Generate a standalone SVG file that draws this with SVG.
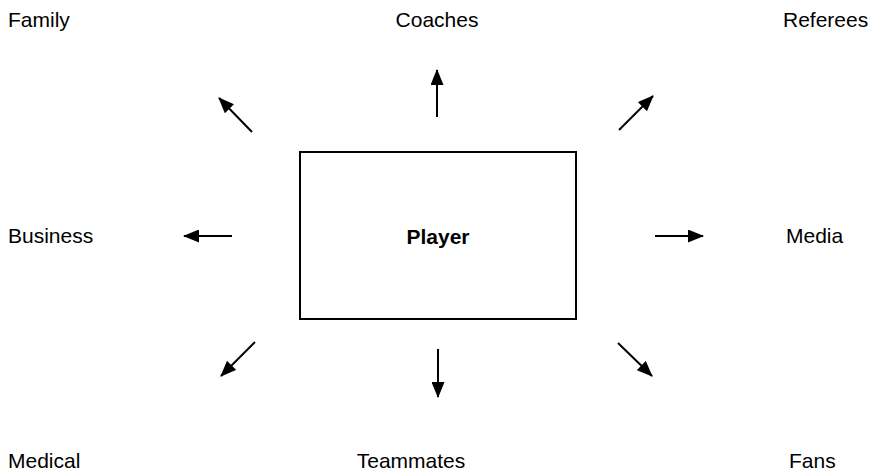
<svg xmlns="http://www.w3.org/2000/svg" width="873" height="476" viewBox="0 0 873 476">
<defs>
<style>
.lbl{font-family:"Liberation Sans",Arial,sans-serif;font-size:21px;fill:#000}
.ttl{font-family:"Liberation Sans",Arial,sans-serif;font-size:21px;font-weight:bold;fill:#000}
.box{fill:#fff;stroke:#000;stroke-width:2}
.arr{stroke:#000;stroke-width:2;fill:none;marker-end:url(#ah)}
</style>
<marker id="ah" viewBox="0 0 16 13" refX="15" refY="6.5" markerWidth="16" markerHeight="13" markerUnits="userSpaceOnUse" orient="auto">
<path d="M0,0 L16,6.5 L0,13 z" fill="#000"/>
</marker>
</defs>
<rect width="873" height="476" fill="#fff"/>
<g id="player">
<rect class="box" x="300" y="152" width="276" height="167"/>
<text class="ttl" x="438" y="244" text-anchor="middle">Player</text>
</g>
<g id="family"><text class="lbl" x="8" y="27">Family</text></g>
<g id="coaches"><text class="lbl" x="437" y="27" text-anchor="middle">Coaches</text></g>
<g id="referees"><text class="lbl" x="783" y="27">Referees</text></g>
<g id="business"><text class="lbl" x="8" y="243">Business</text></g>
<g id="media"><text class="lbl" x="786" y="243">Media</text></g>
<g id="medical"><text class="lbl" x="8" y="468">Medical</text></g>
<g id="teammates"><text class="lbl" x="411" y="468" text-anchor="middle">Teammates</text></g>
<g id="fans"><text class="lbl" x="789" y="468">Fans</text></g>
<g id="connectors">
<line class="arr" x1="437" y1="117" x2="437" y2="70"/>
<line class="arr" x1="252" y1="132" x2="219" y2="98"/>
<line class="arr" x1="619" y1="130" x2="653" y2="96"/>
<line class="arr" x1="232" y1="236" x2="184" y2="236"/>
<line class="arr" x1="655" y1="236" x2="703" y2="236"/>
<line class="arr" x1="255" y1="342" x2="221" y2="376"/>
<line class="arr" x1="438" y1="349" x2="438" y2="397"/>
<line class="arr" x1="618" y1="343" x2="652" y2="376"/>
</g>
</svg>
